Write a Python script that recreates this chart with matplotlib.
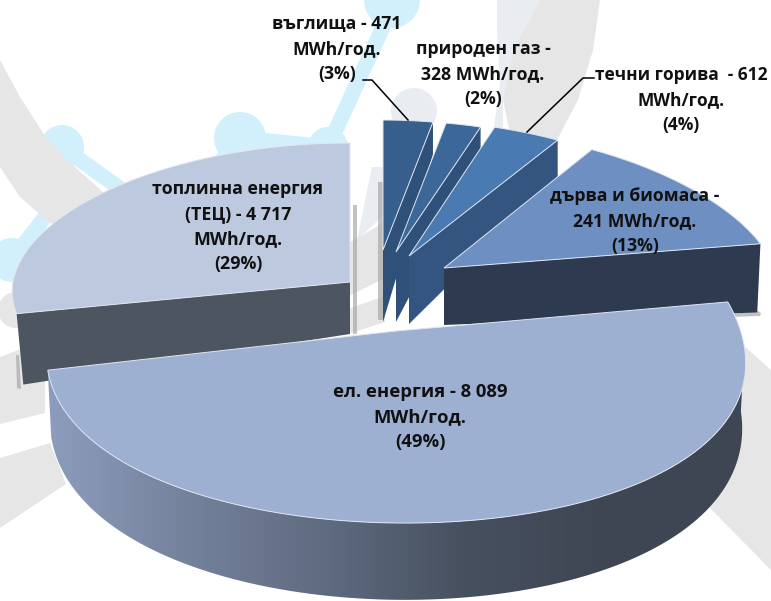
import numpy as np
import matplotlib
matplotlib.use("Agg")
import matplotlib.pyplot as plt
from matplotlib.colors import LinearSegmentedColormap
from matplotlib.patches import Circle, Polygon

# data (order = clockwise from 12 o'clock)
names = ["coal", "gas", "liquid", "bio", "power", "heat"]
values = [471, 328, 612, 2241, 8089, 4717]
labels = [
    "въглища - 471\nMWh/год.\n(3%)",
    "природен газ -\n328 MWh/год.\n(2%)",
    "течни горива  - 612\nMWh/год.\n(4%)",
    "дърва и биомаса -\n241 MWh/год.\n(13%)",
    "ел. енергия - 8 089\nMWh/год.\n(49%)",
    "топлинна енергия\n(ТЕЦ) - 4 717\nMWh/год.\n(29%)",
]
label_x = [337, 483, 681, 635, 420, 238]
label_y = [49, 74, 100, 221, 417, 227]
label_size = [12.7, 12.7, 12.5, 12.7, 13.3, 12.8]

# exploded 3d look, each slice has its own apex and radii
apex_x = [383, 396, 409, 444, 396, 350]
apex_y = [250, 252, 256, 268, 331, 282]
rad_x = [327, 328, 332, 330, 346, 337]
rad_y = [130, 131, 135, 138, 192, 139]
tilt = [0, 0, 0, 0, 4.7, 0]
apex_depth = [72, 70, 68, 57, 60, 52]
rim_depth = [70, 70, 70, 76, 64, 63]
depth_k = [0.55, 0.55, 0.55, 0.55, 0.2, 0.55]
base_shrink = [1, 1, 1, 0.99, 0.99, 0.98]
persp = [0.148, 0.148, 0.148, 0.148, 0.148, 0.07]

top_colors = ["#365f8e", "#3c6799", "#4a7ab2", "#6e8fc1", "#9db0d1", "#bdc9de"]
side_colors = ["#2e5079", "#2e5079", "#33557f", "#2e3a50", "#3f4653", "#4d5560"]

# watermark behind the pie
grey = "#e6e6e6"
pale = "#e9edf2"
blue = "#d2f0fb"
grey_shapes = [
    [(0, 60), (20, 97), (43, 133), (67, 160), (103, 192), (110, 215), (60, 230),
     (43, 217), (20, 197), (0, 167)],
    [(540, 0), (600, 0), (593, 50), (578, 100), (557, 140), (510, 133), (503, 100), (513, 50)],
    [(744, 346), (771, 370), (771, 570), (709, 507)],
    [(0, 424), (45, 413), (45, 340), (0, 357)],
    [(0, 458), (50, 443), (66, 484), (0, 528)],
    [(345, 245), (385, 222), (385, 278), (345, 298)],
    [(345, 310), (385, 296), (385, 322), (345, 335)],
]
pale_shapes = [
    [(497, 0), (540, 0), (513, 50), (503, 100), (503, 133), (494, 128), (500, 83), (497, 33)],
    [(372, 167), (384, 167), (384, 215), (357, 240)],
]
blue_lines = [
    [(12, 260), (58, 200)],
    [(62, 147), (125, 192)],
    [(240, 138), (328, 147)],
    [(328, 147), (393, 5)],
    [(240, 138), (210, 175)],
]
blue_dots = [(62, 147, 22), (240, 138, 26), (328, 147, 20), (12, 260, 22), (392, 0, 28)]
leaders = [
    [(363, 80), (372, 80), (408, 120)],
    [(594, 78), (583, 78), (527, 132)],
]
shadows = [
    [(353, 205), (357, 205), (357, 334), (353, 334)],
    [(378, 182), (383, 182), (383, 320), (378, 320)],
    [(700, 318), (758, 311), (761, 313), (760, 316)],
    [(16, 355), (19, 355), (21, 389), (17, 388)],
]

fracs = np.array(values) / sum(values)
edges = np.radians(np.concatenate([[0], np.cumsum(fracs)]) * 360)


def rim(i, th):
    th = np.asarray(th, dtype=float)
    sc = 1 - persp[i] * np.cos(th)
    x = apex_x[i] + rad_x[i] * np.sin(th) * sc
    y = apex_y[i] - rad_y[i] * np.cos(th) + tilt[i] * np.sin(th)
    return x, y


def base(i, th):
    x, y = rim(i, th)
    d = rim_depth[i] * (1 - depth_k[i] * np.cos(th))
    return apex_x[i] + (x - apex_x[i]) * base_shrink[i], y + d


def cut_face(i, th):
    tx, ty = rim(i, th)
    bx, by = base(i, th)
    return [(apex_x[i], apex_y[i]), (tx, ty), (bx, by), (apex_x[i], apex_y[i] + apex_depth[i])]


fig = plt.figure(figsize=(7.71, 6.01), dpi=100)
ax = fig.add_axes([0, 0, 1, 1])

for pts in blue_lines:
    xs, ys = zip(*pts)
    ax.plot(xs, ys, color=blue, lw=11, solid_capstyle="butt", zorder=1)
for x, y, r in blue_dots:
    ax.add_patch(Circle((x, y), r, color=blue, lw=0, zorder=1))
ax.add_patch(Circle((414, 111), 23, color=pale, lw=0, zorder=1))
for pts in pale_shapes:
    ax.add_patch(Polygon(pts, color=pale, lw=0, zorder=1.5))
for pts in grey_shapes:
    ax.add_patch(Polygon(pts, color=grey, lw=0, zorder=2))
ax.add_patch(Circle((16, 310), 18, color=grey, lw=0, zorder=2))
for pts in shadows:
    ax.add_patch(Polygon(pts, color="#a8a8a8", alpha=0.7, lw=0, zorder=3))

draw_order = [0, 1, 2, 3, 5, 4]
z = 4
for i in draw_order:
    th = np.linspace(edges[i], edges[i + 1], 120)
    tx, ty = rim(i, th)
    if names[i] == "power":
        # curved outer wall with the left to right shading
        vis = th[th > np.radians(92)]
        ux, uy = rim(i, vis)
        lx, ly = base(i, vis)
        wall = np.column_stack([np.r_[ux, lx[::-1]], np.r_[uy, ly[::-1]]])
        cmap = LinearSegmentedColormap.from_list(
            "wall", ["#8d9dbd", "#75829c", "#5f6b80", "#46505f", "#3f4653", "#3f4653"])
        im = ax.imshow(np.linspace(0, 1, 256)[None, :], cmap=cmap, aspect="auto",
                       extent=(45, 745, 610, 330), zorder=z)
        im.set_clip_path(Polygon(wall, transform=ax.transData))
    elif names[i] == "heat":
        ax.add_patch(Polygon(cut_face(i, edges[i]), color=side_colors[i], lw=0, zorder=z))
    else:
        ax.add_patch(Polygon(cut_face(i, edges[i + 1]), color=side_colors[i], lw=0, zorder=z))
    top = np.column_stack([np.r_[apex_x[i], tx], np.r_[apex_y[i], ty]])
    ax.add_patch(Polygon(top, facecolor=top_colors[i], edgecolor="#dfe6f0", lw=0.7, zorder=z + 0.5))
    z += 1

for pts in leaders:
    xs, ys = zip(*pts)
    ax.plot(xs, ys, color="black", lw=1.1, zorder=20)

for x, y, s, fs in zip(label_x, label_y, labels, label_size):
    ax.text(x, y, s, ha="center", va="center", fontsize=fs, fontweight="bold",
            family="Open Sans", color="#111111", linespacing=1.5, zorder=21)

ax.set_xlim(0, 771)
ax.set_ylim(601, 0)
ax.axis("off")
fig.savefig("out.png", dpi=100)
